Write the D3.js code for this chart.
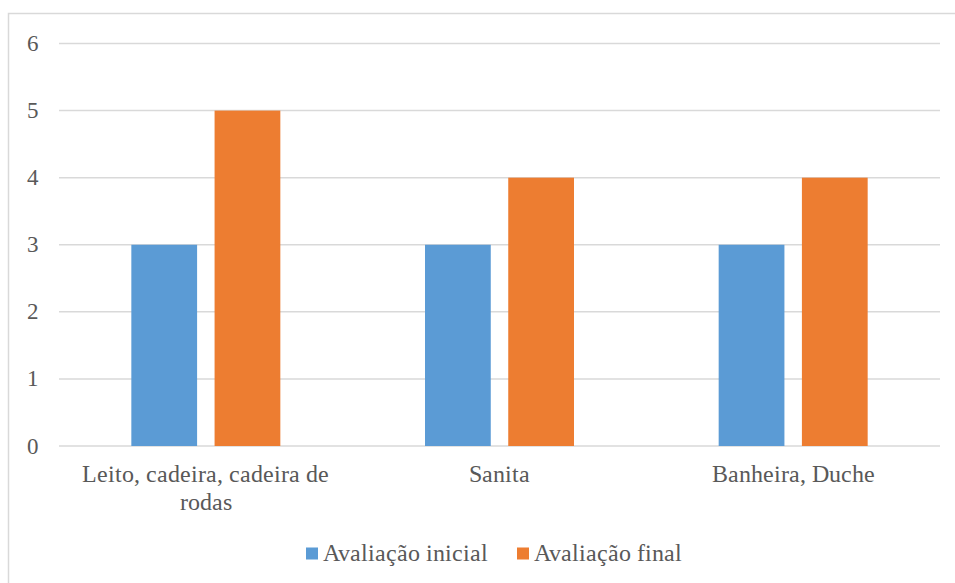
<!DOCTYPE html>
<html>
<head>
<meta charset="utf-8">
<script src="https://cdn.jsdelivr.net/npm/d3@7"></script>
<style>
  @font-face {
    font-family: "Chart Serif";
    src: local("Liberation Serif"), local("LiberationSerif"), local("LiberationSerif-Regular"), local("Tinos"), local("Times New Roman");
  }
  .label { font-family: "Chart Serif", "Liberation Serif", "Times New Roman", serif; }
</style>
</head>
<body style="margin:0">
<svg id="chart" width="955" height="583"></svg>
<script>
const categories = [["Leito, cadeira, cadeira de", "rodas"], ["Sanita"], ["Banheira, Duche"]];
const seriesNames = ["Avaliação inicial", "Avaliação final"];
const inicial = [3, 3, 3];
const final = [5, 4, 4];
const yTicks = [0, 1, 2, 3, 4, 5, 6];
const colors = ["#5B9BD5", "#ED7D31"];

const TEXT = "#595959";
const plot = { left: 59, right: 940, top: 43.5, bottom: 446 };

function draw() {
  const svg = d3.select("#chart");
  svg.selectAll("*").remove();

  // chart frame
  svg.append("rect")
    .attr("x", 8.5).attr("y", 13.5)
    .attr("width", 960).attr("height", 600)
    .attr("fill", "#fff").attr("stroke", "#d9d9d9").attr("stroke-width", 1.5);

  const y = d3.scaleLinear().domain([0, 6]).range([plot.bottom, plot.top]);
  const x0 = d3.scaleBand().domain(d3.range(categories.length)).range([plot.left, plot.right]).padding(0);
  const x1 = d3.scaleBand().domain([0, 1]).range([0, 149]).paddingInner(0.21);
  const groupLeft = i => x0(i) + x0.bandwidth() / 2 - 74.5;

  // gridlines
  svg.selectAll("line.grid").data(yTicks).join("line")
    .attr("class", "grid")
    .attr("x1", plot.left).attr("x2", plot.right)
    .attr("y1", d => y(d)).attr("y2", d => y(d))
    .attr("stroke", "#d9d9d9").attr("stroke-width", 1.5);

  // bars
  const bars = [];
  categories.forEach((c, i) => {
    bars.push({ i, j: 0, v: inicial[i] });
    bars.push({ i, j: 1, v: final[i] });
  });
  svg.selectAll("rect.bar").data(bars).join("rect")
    .attr("class", "bar")
    .attr("x", d => groupLeft(d.i) + x1(d.j))
    .attr("y", d => y(d.v))
    .attr("width", x1.bandwidth())
    .attr("height", d => plot.bottom - y(d.v))
    .attr("fill", d => colors[d.j]);

  // y tick labels
  svg.selectAll("text.ytick").data(yTicks).join("text")
    .attr("class", "ytick label")
    .attr("x", 33).attr("y", d => y(d) + 7.5)
    .attr("text-anchor", "middle")
    .attr("font-size", 23)
    .attr("fill", TEXT)
    .text(d => d);

  // category labels, one text per line
  const catLines = [];
  categories.forEach((lines, i) => lines.forEach((t, k) => catLines.push({ i, k, t })));
  svg.selectAll("text.cat").data(catLines).join("text")
    .attr("class", "cat label")
    .attr("x", d => x0(d.i) + x0.bandwidth() / 2)
    .attr("y", d => 482 + d.k * 28)
    .attr("text-anchor", "middle")
    .attr("font-size", 24)
    .attr("fill", TEXT)
    .text(d => d.t);

  // legend
  const legendX = [306, 517];
  svg.selectAll("rect.key").data(seriesNames).join("rect")
    .attr("class", "key")
    .attr("x", (d, i) => legendX[i]).attr("y", 547.5)
    .attr("width", 12).attr("height", 12)
    .attr("fill", (d, i) => colors[i]);
  svg.selectAll("text.key").data(seriesNames).join("text")
    .attr("class", "key label")
    .attr("x", (d, i) => legendX[i] + 17).attr("y", 561)
    .attr("font-size", 24)
    .attr("fill", TEXT)
    .text(d => d);
}

draw();
if (document.fonts) {
  document.fonts.load('24px "Chart Serif"').then(draw, draw);
}
</script>
</body>
</html>
